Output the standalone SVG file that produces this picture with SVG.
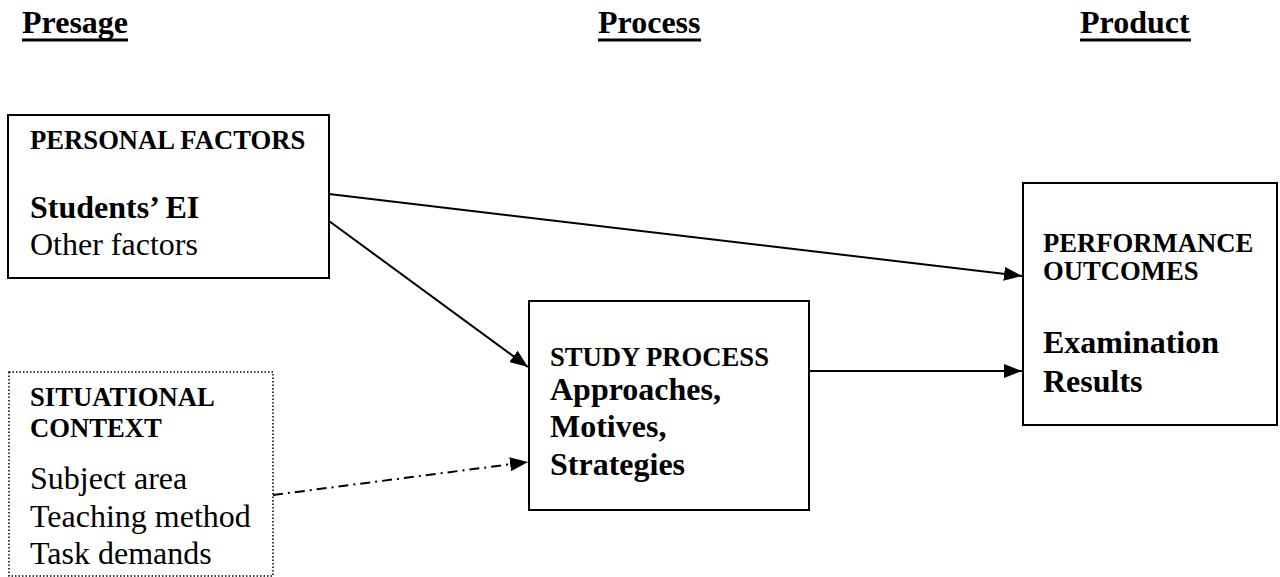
<svg xmlns="http://www.w3.org/2000/svg" width="1280" height="577" viewBox="0 0 1280 577">
<style>
text{font-family:"Liberation Serif","Times New Roman",serif;fill:#000}
.h{font-size:32px;font-weight:bold}
.cap{font-size:26.67px;font-weight:bold}
.big{font-size:32px;font-weight:bold}
.reg{font-size:32px}
.box{fill:#fff;stroke:#000;stroke-width:2}
.dot{fill:#fff;stroke:#000;stroke-width:1.5;stroke-dasharray:1.5,2}
.ul{stroke:#000;stroke-width:3}
.conn{stroke:#000;stroke-width:2;fill:none}
</style>
<defs>
<marker id="arr" markerUnits="userSpaceOnUse" markerWidth="18" markerHeight="14" refX="18" refY="7" orient="auto">
<path d="M0,0 L18,7 L0,14 z" fill="#000"/>
</marker>
</defs>
<rect width="1280" height="577" fill="#fff"/>
<g id="headings">
<text class="h" x="22" y="33">Presage</text>
<line class="ul" x1="22" y1="40" x2="128" y2="40"/>
<text class="h" x="598" y="33">Process</text>
<line class="ul" x1="598" y1="40" x2="701" y2="40"/>
<text class="h" x="1080" y="33">Product</text>
<line class="ul" x1="1080" y1="40" x2="1191" y2="40"/>
</g>
<g id="personal">
<rect class="box" x="8" y="115" width="321" height="163"/>
<text class="cap" x="30" y="149">PERSONAL FACTORS</text>
<text class="big" x="30" y="218">Students’ EI</text>
<text class="reg" x="30" y="255">Other factors</text>
</g>
<g id="situational">
<rect class="dot" x="9" y="372" width="264" height="204"/>
<text class="cap" x="30" y="406">SITUATIONAL</text>
<text class="cap" x="30" y="437">CONTEXT</text>
<text class="reg" x="30" y="489">Subject area</text>
<text class="reg" x="30" y="527">Teaching method</text>
<text class="reg" x="30" y="564">Task demands</text>
</g>
<g id="study">
<rect class="box" x="529" y="301" width="280" height="209"/>
<text class="cap" x="550" y="366">STUDY PROCESS</text>
<text class="big" x="550" y="400">Approaches,</text>
<text class="big" x="550" y="437">Motives,</text>
<text class="big" x="550" y="475">Strategies</text>
</g>
<g id="performance">
<rect class="box" x="1023" y="183" width="254" height="242"/>
<text class="cap" x="1043" y="252">PERFORMANCE</text>
<text class="cap" x="1043" y="280">OUTCOMES</text>
<text class="big" x="1043" y="353">Examination</text>
<text class="big" x="1043" y="392">Results</text>
</g>
<g id="connectors">
<line class="conn" x1="329" y1="194" x2="1022" y2="276" marker-end="url(#arr)"/>
<line class="conn" x1="329" y1="221" x2="528" y2="367" marker-end="url(#arr)"/>
<line class="conn" x1="809" y1="371" x2="1022" y2="371" marker-end="url(#arr)"/>
<line class="conn" x1="273" y1="495" x2="528" y2="462" stroke-dasharray="10,5,2,5" marker-end="url(#arr)"/>
</g>
</svg>
